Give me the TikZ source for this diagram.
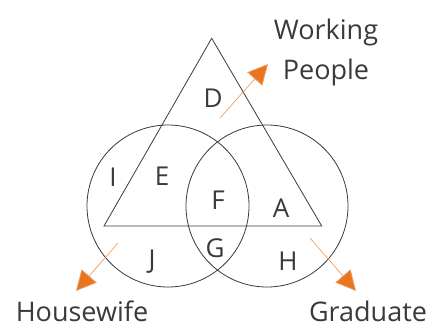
\documentclass[tikz,border=0pt]{standalone}
\usepackage{fontspec}
\setmainfont{Open Sans}
\usetikzlibrary{arrows.meta}
\definecolor{ink}{HTML}{3A3A3A}
\definecolor{tangerine}{HTML}{E8761E}
\begin{document}
\begin{tikzpicture}[x=1pt, y=-1pt]
	\tikzset{region/.style={font=\fontsize{26}{26}\selectfont, text=ink, inner sep=0}}
	\tikzset{setname/.style={font=\fontsize{27}{40}\selectfont, text=ink, inner sep=0, align=center}}
	\tikzset{ar/.style={-{Triangle[length=20pt, width=20pt, fill=tangerine]}, draw=tangerine!70, line width=0.7pt}}
	\useasboundingbox (0,0) rectangle (436,327);
	\coordinate (apex) at (211.7, 38.3);
	\coordinate (bl) at (104.0, 226.0);
	\coordinate (br) at (321.7, 226.0);
	\draw[ink, line width=0.8pt] (apex) -- (bl) -- (br) -- cycle;
	\draw[ink, line width=0.8pt] (168, 206) circle [radius=81];
	\draw[ink, line width=0.8pt] (267, 206) circle [radius=81];
	\node[region] at (213, 98) (d) {D};
	\node[region] at (113, 177) (i) {I};
	\node[region] at (162, 176) (e) {E};
	\node[region] at (218, 200) (f) {F};
	\node[region] at (281, 208) (a) {A};
	\node[region] at (215, 248) (g) {G};
	\node[region] at (152, 262) (j) {J};
	\node[region] at (288, 261) (h) {H};
	\node[setname] at (326, 52) (work) {Working\\People};
	\node[setname] at (82, 311) (wife) {Housewife};
	\node[setname] at (368, 311) (grad) {Graduate};
	\coordinate (w0) at (220, 118);
	\coordinate (w1) at (268, 64);
	\coordinate (h0) at (118, 243);
	\coordinate (h1) at (76, 291);
	\coordinate (g0) at (310, 238);
	\coordinate (g1) at (356, 291);
	\path (w0) edge[ar] (w1);
	\path (h0) edge[ar] (h1);
	\path (g0) edge[ar] (g1);
\end{tikzpicture}
\end{document}
